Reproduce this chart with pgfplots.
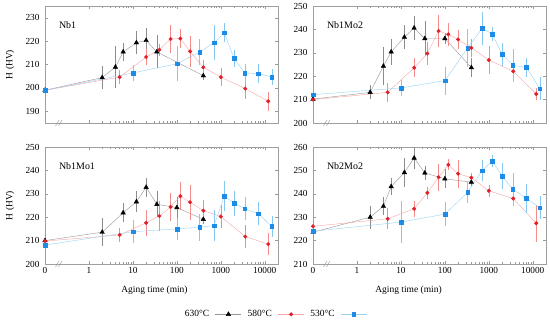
\documentclass[border=0pt]{standalone}
\usepackage{fontspec}
\setmainfont{Liberation Serif}
\usepackage{pgfplots}
\usepackage{pgfplotstable}
\pgfplotsset{compat=1.18}

\definecolor{mkred}{RGB}{225,30,40}
\definecolor{mkblue}{RGB}{30,140,230}
\definecolor{lnblack}{RGB}{150,150,150}
\definecolor{lnred}{RGB}{245,165,165}
\definecolor{lnblue}{RGB}{150,210,242}
\definecolor{ebblack}{RGB}{140,140,140}
\definecolor{ebred}{RGB}{245,140,140}
\definecolor{ebblue}{RGB}{135,200,242}

% Nb1
\pgfplotstableread{
t h e
0.1 199 0
2 204.4 5
4 208.9 9
6 215.4 4
12 219.3 5
20 220.3 5.5
35 215.4 7
400 205.2 2
}\NbOneA
\pgfplotstableread{
t h e
0.1 199 0
5 204.6 3
20 213.2 3.5
40 216.3 2.5
72 220.9 6
120 221.1 4
200 215.6 6.5
400 208.8 3
1000 204.6 4
3600 199.7 4.5
12000 194.3 4
}\NbOneB
\pgfplotstableread{
t h e
0.1 199 0
10 206.4 3.5
100 210.3 7.5
330 215.3 5.5
700 219.3 7.5
1200 223.6 4
2000 212.6 3.5
3500 206.4 4
7200 206.1 4
14400 204.7 3.5
}\NbOneC
% Nb1Mo2
\pgfplotstableread{
t h e
0.1 210.2 0
2 213.1 3
4 224.3 8
6 230.4 5.5
12 236.7 5
20 240.6 5
35 236.1 7.5
100 236.1 2.5
400 223.7 4
}\NbMoTwoA
\pgfplotstableread{
t h e
0.1 210 0
5 213.1 4
20 223.6 4
40 229.7 5
72 239.3 7
120 237.9 5
200 235.7 4
400 232.1 4
1000 226.9 6
3600 222.1 2
12000 212.4 2.5
}\NbMoTwoB
\pgfplotstableread{
t h e
0.1 212.1 0
10 215 3.5
100 218.1 6
330 232.1 8
700 240.4 7
1200 238.1 3
2000 229.3 5
3500 224.7 7
7200 223.7 4
14400 214.7 5
}\NbMoTwoC
% Nb1Mo1
\pgfplotstableread{
t h e
0.1 210 0
2 213.6 6
6 221.9 4
12 226.6 4.5
20 232.8 4
35 225.5 5.5
100 224.1 4.5
400 219.1 2
}\NbMoOneA
\pgfplotstableread{
t h e
0.1 209.8 0
5 212.4 3
20 217.6 5.5
40 220.5 6.5
72 224.4 6
120 229 6
200 226.4 7.5
400 222.8 4.7
1000 220.3 5
3600 211.7 5
12000 208.5 4.7
}\NbMoOneB
\pgfplotstableread{
t h e
0.1 208.1 0
10 213.8 5
100 215 4.7
330 215.7 5.8
700 216.4 6.5
1200 229 6.5
2000 226 5.4
3500 223.6 5
7200 221.5 5
14400 216 4.5
}\NbMoOneC
% Nb2Mo2
\pgfplotstableread{
t h e
0.1 223.6 0
2 230 5
4 234.7 3.8
6 243.1 3.5
12 249.1 6
20 255.3 4.5
35 248.9 3
100 246.4 4
400 245 1.5
}\NbTwoA
\pgfplotstableread{
t h e
0.1 226.1 0
5 229.3 4.5
20 233.6 3.5
40 240.4 2.5
72 247.1 5.7
120 252.4 2.3
200 248.6 6
400 246.9 2
1000 241.3 2.5
3600 238 3
12000 227.4 8
}\NbTwoB
\pgfplotstableread{
t h e
0.1 224 0
10 227.9 9
100 231.3 5
330 240.6 4.5
700 249.9 4.5
1200 254 2.5
2000 247.6 5.5
3500 242 7
7200 238 6
14400 234.1 5
}\NbTwoC

\pgfplotsset{
  mypanel/.style={
    scale only axis, width=233bp, height=117bp,
    xmin=0.1, xmax=20000,
    xtick={0.1,1,10,100,1000,10000},
    xticklabels={0,1,10,100,1000,10000},
    minor xtick={2,3,4,5,6,7,8,9,20,30,40,50,60,70,80,90,200,300,400,500,600,700,800,900,2000,3000,4000,5000,6000,7000,8000,9000,20000},
    tick align=inside,
    major tick length=3bp, minor tick length=2bp,
    every tick/.style={gray!80, thin},
    axis line style={gray!75, thin},
    tick label style={font=\fontsize{9.3}{10}\selectfont, black},
    label style={font=\fontsize{9.5}{11}\selectfont},
    /pgf/number format/assume math mode=true,
    yticklabel style={xshift=-2bp},
    clip=false,
  },
  sblack/.style={color=lnblack, thin, mark=triangle*, mark size=2.6bp,
    mark options={fill=black, draw=black, solid}},
  sred/.style={color=lnred, thin, mark=*, mark size=1.8bp,
    mark options={fill=mkred, draw=mkred, solid}},
  sblue/.style={color=lnblue, thin, mark=square*, mark size=1.9bp,
    mark options={fill=mkblue, draw=mkblue, solid}},
}

\newcommand{\brk}{%
  \draw[gray!80, thin] (rel axis cs:0.06,0) ++(-3.5bp,-3bp) -- ++(3.5bp,6bp);
  \draw[gray!80, thin] (rel axis cs:0.06,0) ++(-0.5bp,-3bp) -- ++(3.5bp,6bp);
}

\begin{document}
\begin{tikzpicture}
% Top-left Nb1
\begin{axis}[xmode=log, mypanel, at={(45bp,200bp)}, anchor=south west,
  ymin=185, ymax=235, ytick={190,200,210,220,230},
  xticklabels={}, ylabel={H (HV)},
  ylabel style={at={(axis description cs:-0.15,0.5)}, anchor=center}]
\addplot+[sblack, error bars/.cd, y dir=both, y explicit, error mark=none, error bar style={ebblack, thin}] table[x=t,y=h,y error=e]{\NbOneA};
\addplot+[sred, error bars/.cd, y dir=both, y explicit, error mark=none, error bar style={ebred, thin}] table[x=t,y=h,y error=e]{\NbOneB};
\addplot+[sblue, error bars/.cd, y dir=both, y explicit, error mark=none, error bar style={ebblue, thin}] table[x=t,y=h,y error=e]{\NbOneC};
\node[anchor=west, font=\fontsize{10}{12}\selectfont] at (rel axis cs:0.045,0.84) {Nb1};
\brk
\end{axis}
% Top-right Nb1Mo2
\begin{axis}[xmode=log, mypanel, at={(313bp,200bp)}, anchor=south west,
  ymin=200, ymax=250, ytick={200,210,220,230,240,250},
  xticklabels={}]
\addplot+[sblack, error bars/.cd, y dir=both, y explicit, error mark=none, error bar style={ebblack, thin}] table[x=t,y=h,y error=e]{\NbMoTwoA};
\addplot+[sred, error bars/.cd, y dir=both, y explicit, error mark=none, error bar style={ebred, thin}] table[x=t,y=h,y error=e]{\NbMoTwoB};
\addplot+[sblue, error bars/.cd, y dir=both, y explicit, error mark=none, error bar style={ebblue, thin}] table[x=t,y=h,y error=e]{\NbMoTwoC};
\node[anchor=west, font=\fontsize{10}{12}\selectfont] at (rel axis cs:0.045,0.84) {Nb1Mo2};
\brk
\end{axis}
% Bottom-left Nb1Mo1
\begin{axis}[xmode=log, mypanel, at={(45bp,59bp)}, anchor=south west,
  ymin=200, ymax=250, ytick={200,210,220,230,240,250},
  ylabel={H (HV)},
  ylabel style={at={(axis description cs:-0.15,0.5)}, anchor=center},
  xlabel={Aging time (min)},
  xlabel style={at={(axis description cs:0.47,-0.22)}, anchor=center},
  legend plot pos=right,
  legend columns=3,
  legend image code/.code={\draw[mark repeat=2,mark phase=2] plot coordinates {(0bp,0bp)(13bp,0bp)(26bp,0bp)};},
  legend style={at={(axis description cs:0.987,-0.43)}, anchor=center, draw=none, fill=none,
    font=\fontsize{9.5}{11}\selectfont, /tikz/column sep=4bp}]
\addplot+[sblack, error bars/.cd, y dir=both, y explicit, error mark=none, error bar style={ebblack, thin}] table[x=t,y=h,y error=e]{\NbMoOneA};
\addlegendentry{630°C}
\addplot+[sred, error bars/.cd, y dir=both, y explicit, error mark=none, error bar style={ebred, thin}] table[x=t,y=h,y error=e]{\NbMoOneB};
\addlegendentry{580°C}
\addplot+[sblue, error bars/.cd, y dir=both, y explicit, error mark=none, error bar style={ebblue, thin}] table[x=t,y=h,y error=e]{\NbMoOneC};
\addlegendentry{530°C}
\node[anchor=west, font=\fontsize{10}{12}\selectfont] at (rel axis cs:0.045,0.84) {Nb1Mo1};
\brk
\end{axis}
% Bottom-right Nb2Mo2
\begin{axis}[xmode=log, mypanel, at={(313bp,59bp)}, anchor=south west,
  ymin=210, ymax=260, ytick={210,220,230,240,250,260},
  xlabel={Aging time (min)},
  xlabel style={at={(axis description cs:0.41,-0.22)}, anchor=center}]
\addplot+[sblack, error bars/.cd, y dir=both, y explicit, error mark=none, error bar style={ebblack, thin}] table[x=t,y=h,y error=e]{\NbTwoA};
\addplot+[sred, error bars/.cd, y dir=both, y explicit, error mark=none, error bar style={ebred, thin}] table[x=t,y=h,y error=e]{\NbTwoB};
\addplot+[sblue, error bars/.cd, y dir=both, y explicit, error mark=none, error bar style={ebblue, thin}] table[x=t,y=h,y error=e]{\NbTwoC};
\node[anchor=west, font=\fontsize{10}{12}\selectfont] at (rel axis cs:0.045,0.84) {Nb2Mo2};
\brk
\end{axis}
\pgfresetboundingbox
\path (0bp,0bp) rectangle (550bp,323bp);
\end{tikzpicture}
\end{document}
